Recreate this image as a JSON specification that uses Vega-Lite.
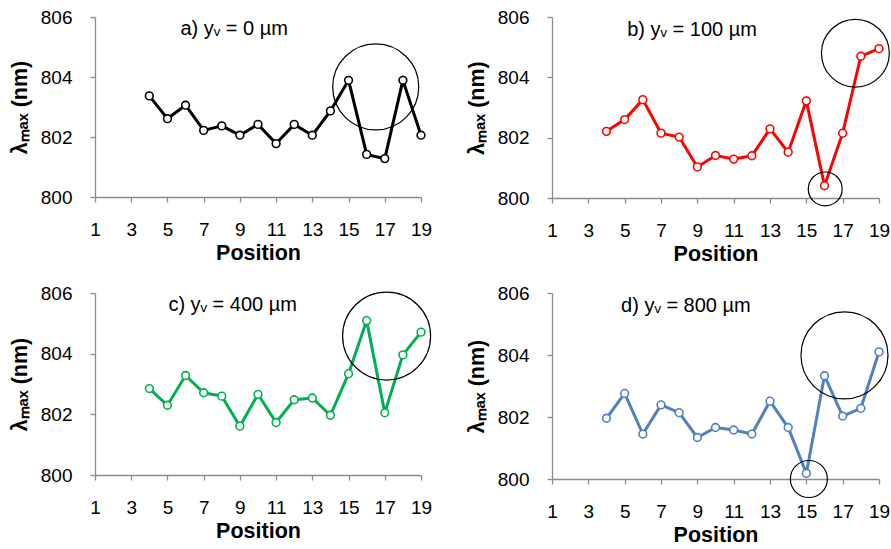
{
  "$schema": "https://vega.github.io/schema/vega-lite/v6.json",
  "background": "white",
  "padding": {"left": 9, "top": 8, "right": 0, "bottom": 0},
  "config": {
    "font": "Liberation Sans",
    "view": {"stroke": null},
    "concat": {"spacing": {"row": 19, "column": 33}},
    "text": {"font": "Liberation Sans", "fontSize": 20, "color": "black"},
    "axis": {
      "grid": false,
      "domainColor": "#8c8c8c",
      "domainWidth": 1.3,
      "tickColor": "#8c8c8c",
      "tickWidth": 1.3,
      "tickSize": 5,
      "labelFont": "Liberation Sans",
      "labelFontSize": 19,
      "labelColor": "black",
      "labelOverlap": false,
      "labelFlush": false,
      "titleFont": "Liberation Sans",
      "titleFontSize": 21.5,
      "titleFontWeight": "bold",
      "titleColor": "black"
    }
  },
  "datasets": {
    "a": [
      {"position": 4, "lambda": 803.37}, {"position": 5, "lambda": 802.61}, {"position": 6, "lambda": 803.06},
      {"position": 7, "lambda": 802.22}, {"position": 8, "lambda": 802.37}, {"position": 9, "lambda": 802.06},
      {"position": 10, "lambda": 802.42}, {"position": 11, "lambda": 801.78}, {"position": 12, "lambda": 802.42},
      {"position": 13, "lambda": 802.06}, {"position": 14, "lambda": 802.87}, {"position": 15, "lambda": 803.89},
      {"position": 16, "lambda": 801.42}, {"position": 17, "lambda": 801.28}, {"position": 18, "lambda": 803.89},
      {"position": 19, "lambda": 802.06}
    ],
    "b": [
      {"position": 4, "lambda": 802.21}, {"position": 5, "lambda": 802.6}, {"position": 6, "lambda": 803.26},
      {"position": 7, "lambda": 802.15}, {"position": 8, "lambda": 802.02}, {"position": 9, "lambda": 801.03},
      {"position": 10, "lambda": 801.41}, {"position": 11, "lambda": 801.29}, {"position": 12, "lambda": 801.4},
      {"position": 13, "lambda": 802.29}, {"position": 14, "lambda": 801.52}, {"position": 15, "lambda": 803.22},
      {"position": 16, "lambda": 800.41}, {"position": 17, "lambda": 802.15}, {"position": 18, "lambda": 804.7},
      {"position": 19, "lambda": 804.95}
    ],
    "c": [
      {"position": 4, "lambda": 802.85}, {"position": 5, "lambda": 802.3}, {"position": 6, "lambda": 803.28},
      {"position": 7, "lambda": 802.71}, {"position": 8, "lambda": 802.6}, {"position": 9, "lambda": 801.61},
      {"position": 10, "lambda": 802.66}, {"position": 11, "lambda": 801.73}, {"position": 12, "lambda": 802.48},
      {"position": 13, "lambda": 802.54}, {"position": 14, "lambda": 801.97}, {"position": 15, "lambda": 803.34},
      {"position": 16, "lambda": 805.09}, {"position": 17, "lambda": 802.05}, {"position": 18, "lambda": 803.96},
      {"position": 19, "lambda": 804.71}
    ],
    "d": [
      {"position": 4, "lambda": 801.96}, {"position": 5, "lambda": 802.76}, {"position": 6, "lambda": 801.45},
      {"position": 7, "lambda": 802.39}, {"position": 8, "lambda": 802.14}, {"position": 9, "lambda": 801.34},
      {"position": 10, "lambda": 801.66}, {"position": 11, "lambda": 801.58}, {"position": 12, "lambda": 801.45},
      {"position": 13, "lambda": 802.51}, {"position": 14, "lambda": 801.66}, {"position": 15, "lambda": 800.18},
      {"position": 16, "lambda": 803.33}, {"position": 17, "lambda": 802.03}, {"position": 18, "lambda": 802.28},
      {"position": 19, "lambda": 804.1}
    ]
  },
  "columns": 2,
  "concat": [
    {
      "width": 326, "height": 180,
      "layer": [
        {"data": {"name": "a"}, "mark": {"type": "line", "color": "black", "strokeWidth": 3},
         "encoding": {
           "x": {"field": "position", "type": "quantitative", "scale": {"domain": [1, 19], "nice": false, "zero": false}, "axis": {"values": [1, 3, 5, 7, 9, 11, 13, 15, 17, 19], "labelOverlap": false, "title": "Position", "labelPadding": 18, "titlePadding": 3}},
           "y": {"field": "lambda", "type": "quantitative", "scale": {"domain": [800, 806], "nice": false, "zero": false}, "axis": {"values": [800, 802, 804, 806], "labelOverlap": false, "title": "λₘₐₓ (nm)", "labelPadding": 18, "titlePadding": 9}}}},
        {"data": {"name": "a"}, "mark": {"type": "point", "shape": "circle", "filled": true, "fill": "white", "stroke": "black", "strokeWidth": 1.6, "size": 60, "opacity": 1},
         "encoding": {
           "x": {"field": "position", "type": "quantitative", "axis": {"values": [1, 3, 5, 7, 9, 11, 13, 15, 17, 19], "labelOverlap": false, "title": "Position", "labelPadding": 18, "titlePadding": 3}},
           "y": {"field": "lambda", "type": "quantitative", "axis": {"values": [800, 802, 804, 806], "labelOverlap": false, "title": "λₘₐₓ (nm)", "labelPadding": 18, "titlePadding": 9}}}},
        {"data": {"values": [{"position": 16.5, "lambda": 803.67}]}, "mark": {"type": "point", "shape": "circle", "filled": false, "stroke": "black", "strokeWidth": 1.2, "size": 7400, "opacity": 1},
         "encoding": {
           "x": {"field": "position", "type": "quantitative", "axis": {"values": [1, 3, 5, 7, 9, 11, 13, 15, 17, 19], "labelOverlap": false, "title": "Position", "labelPadding": 18, "titlePadding": 3}},
           "y": {"field": "lambda", "type": "quantitative", "axis": {"values": [800, 802, 804, 806], "labelOverlap": false, "title": "λₘₐₓ (nm)", "labelPadding": 18, "titlePadding": 9}}}},
        {"data": {"values": [{"label": "a) yᵥ = 0 µm"}]}, "mark": {"type": "text"},
         "encoding": {
           "x": {"datum": 8.68, "type": "quantitative", "axis": {"values": [1, 3, 5, 7, 9, 11, 13, 15, 17, 19], "labelOverlap": false, "title": "Position", "labelPadding": 18, "titlePadding": 3}},
           "y": {"datum": 805.6, "type": "quantitative", "axis": {"values": [800, 802, 804, 806], "labelOverlap": false, "title": "λₘₐₓ (nm)", "labelPadding": 18, "titlePadding": 9}},
           "text": {"field": "label", "type": "nominal"}}}
      ]
    },
    {
      "width": 327, "height": 181,
      "layer": [
        {"data": {"name": "b"}, "mark": {"type": "line", "color": "#ff0000", "strokeWidth": 3},
         "encoding": {
           "x": {"field": "position", "type": "quantitative", "scale": {"domain": [1, 19], "nice": false, "zero": false}, "axis": {"values": [1, 3, 5, 7, 9, 11, 13, 15, 17, 19], "labelOverlap": false, "title": "Position", "labelPadding": 18, "titlePadding": 3}},
           "y": {"field": "lambda", "type": "quantitative", "scale": {"domain": [800, 806], "nice": false, "zero": false}, "axis": {"values": [800, 802, 804, 806], "labelOverlap": false, "title": "λₘₐₓ (nm)", "labelPadding": 18, "titlePadding": 9}}}},
        {"data": {"name": "b"}, "mark": {"type": "point", "shape": "circle", "filled": true, "fill": "white", "stroke": "#ff0000", "strokeWidth": 1.6, "size": 60, "opacity": 1},
         "encoding": {
           "x": {"field": "position", "type": "quantitative", "axis": {"values": [1, 3, 5, 7, 9, 11, 13, 15, 17, 19], "labelOverlap": false, "title": "Position", "labelPadding": 18, "titlePadding": 3}},
           "y": {"field": "lambda", "type": "quantitative", "axis": {"values": [800, 802, 804, 806], "labelOverlap": false, "title": "λₘₐₓ (nm)", "labelPadding": 18, "titlePadding": 9}}}},
        {"data": {"values": [{"position": 17.7, "lambda": 804.8}]}, "mark": {"type": "point", "shape": "circle", "filled": false, "stroke": "black", "strokeWidth": 1.2, "size": 4600, "opacity": 1},
         "encoding": {
           "x": {"field": "position", "type": "quantitative", "axis": {"values": [1, 3, 5, 7, 9, 11, 13, 15, 17, 19], "labelOverlap": false, "title": "Position", "labelPadding": 18, "titlePadding": 3}},
           "y": {"field": "lambda", "type": "quantitative", "axis": {"values": [800, 802, 804, 806], "labelOverlap": false, "title": "λₘₐₓ (nm)", "labelPadding": 18, "titlePadding": 9}}}},
        {"data": {"values": [{"position": 16.04, "lambda": 800.3}]}, "mark": {"type": "point", "shape": "circle", "filled": false, "stroke": "black", "strokeWidth": 1.2, "size": 1150, "opacity": 1},
         "encoding": {
           "x": {"field": "position", "type": "quantitative", "axis": {"values": [1, 3, 5, 7, 9, 11, 13, 15, 17, 19], "labelOverlap": false, "title": "Position", "labelPadding": 18, "titlePadding": 3}},
           "y": {"field": "lambda", "type": "quantitative", "axis": {"values": [800, 802, 804, 806], "labelOverlap": false, "title": "λₘₐₓ (nm)", "labelPadding": 18, "titlePadding": 9}}}},
        {"data": {"values": [{"label": "b) yᵥ = 100 µm"}]}, "mark": {"type": "text"},
         "encoding": {
           "x": {"datum": 8.71, "type": "quantitative", "axis": {"values": [1, 3, 5, 7, 9, 11, 13, 15, 17, 19], "labelOverlap": false, "title": "Position", "labelPadding": 18, "titlePadding": 3}},
           "y": {"datum": 805.58, "type": "quantitative", "axis": {"values": [800, 802, 804, 806], "labelOverlap": false, "title": "λₘₐₓ (nm)", "labelPadding": 18, "titlePadding": 9}},
           "text": {"field": "label", "type": "nominal"}}}
      ]
    },
    {
      "width": 326, "height": 182,
      "layer": [
        {"data": {"name": "c"}, "mark": {"type": "line", "color": "#00b050", "strokeWidth": 3},
         "encoding": {
           "x": {"field": "position", "type": "quantitative", "scale": {"domain": [1, 19], "nice": false, "zero": false}, "axis": {"values": [1, 3, 5, 7, 9, 11, 13, 15, 17, 19], "labelOverlap": false, "title": "Position", "labelPadding": 18, "titlePadding": 3}},
           "y": {"field": "lambda", "type": "quantitative", "scale": {"domain": [800, 806], "nice": false, "zero": false}, "axis": {"values": [800, 802, 804, 806], "labelOverlap": false, "title": "λₘₐₓ (nm)", "labelPadding": 18, "titlePadding": 9}}}},
        {"data": {"name": "c"}, "mark": {"type": "point", "shape": "circle", "filled": true, "fill": "white", "stroke": "#00b050", "strokeWidth": 1.6, "size": 60, "opacity": 1},
         "encoding": {
           "x": {"field": "position", "type": "quantitative", "axis": {"values": [1, 3, 5, 7, 9, 11, 13, 15, 17, 19], "labelOverlap": false, "title": "Position", "labelPadding": 18, "titlePadding": 3}},
           "y": {"field": "lambda", "type": "quantitative", "axis": {"values": [800, 802, 804, 806], "labelOverlap": false, "title": "λₘₐₓ (nm)", "labelPadding": 18, "titlePadding": 9}}}},
        {"data": {"values": [{"position": 17.1, "lambda": 804.58}]}, "mark": {"type": "point", "shape": "circle", "filled": false, "stroke": "black", "strokeWidth": 1.2, "size": 7744, "opacity": 1},
         "encoding": {
           "x": {"field": "position", "type": "quantitative", "axis": {"values": [1, 3, 5, 7, 9, 11, 13, 15, 17, 19], "labelOverlap": false, "title": "Position", "labelPadding": 18, "titlePadding": 3}},
           "y": {"field": "lambda", "type": "quantitative", "axis": {"values": [800, 802, 804, 806], "labelOverlap": false, "title": "λₘₐₓ (nm)", "labelPadding": 18, "titlePadding": 9}}}},
        {"data": {"values": [{"label": "c) yᵥ = 400 µm"}]}, "mark": {"type": "text"},
         "encoding": {
           "x": {"datum": 8.6, "type": "quantitative", "axis": {"values": [1, 3, 5, 7, 9, 11, 13, 15, 17, 19], "labelOverlap": false, "title": "Position", "labelPadding": 18, "titlePadding": 3}},
           "y": {"datum": 805.59, "type": "quantitative", "axis": {"values": [800, 802, 804, 806], "labelOverlap": false, "title": "λₘₐₓ (nm)", "labelPadding": 18, "titlePadding": 9}},
           "text": {"field": "label", "type": "nominal"}}}
      ]
    },
    {
      "width": 327, "height": 186,
      "layer": [
        {"data": {"name": "d"}, "mark": {"type": "line", "color": "#4f81bd", "strokeWidth": 3},
         "encoding": {
           "x": {"field": "position", "type": "quantitative", "scale": {"domain": [1, 19], "nice": false, "zero": false}, "axis": {"values": [1, 3, 5, 7, 9, 11, 13, 15, 17, 19], "labelOverlap": false, "title": "Position", "labelPadding": 18, "titlePadding": 3}},
           "y": {"field": "lambda", "type": "quantitative", "scale": {"domain": [800, 806], "nice": false, "zero": false}, "axis": {"values": [800, 802, 804, 806], "labelOverlap": false, "title": "λₘₐₓ (nm)", "labelPadding": 18, "titlePadding": 9}}}},
        {"data": {"name": "d"}, "mark": {"type": "point", "shape": "circle", "filled": true, "fill": "white", "stroke": "#4f81bd", "strokeWidth": 1.6, "size": 60, "opacity": 1},
         "encoding": {
           "x": {"field": "position", "type": "quantitative", "axis": {"values": [1, 3, 5, 7, 9, 11, 13, 15, 17, 19], "labelOverlap": false, "title": "Position", "labelPadding": 18, "titlePadding": 3}},
           "y": {"field": "lambda", "type": "quantitative", "axis": {"values": [800, 802, 804, 806], "labelOverlap": false, "title": "λₘₐₓ (nm)", "labelPadding": 18, "titlePadding": 9}}}},
        {"data": {"values": [{"position": 17.1, "lambda": 803.99}]}, "mark": {"type": "point", "shape": "circle", "filled": false, "stroke": "black", "strokeWidth": 1.2, "size": 7570, "opacity": 1},
         "encoding": {
           "x": {"field": "position", "type": "quantitative", "axis": {"values": [1, 3, 5, 7, 9, 11, 13, 15, 17, 19], "labelOverlap": false, "title": "Position", "labelPadding": 18, "titlePadding": 3}},
           "y": {"field": "lambda", "type": "quantitative", "axis": {"values": [800, 802, 804, 806], "labelOverlap": false, "title": "λₘₐₓ (nm)", "labelPadding": 18, "titlePadding": 9}}}},
        {"data": {"values": [{"position": 15.14, "lambda": 800.0}]}, "mark": {"type": "point", "shape": "circle", "filled": false, "stroke": "black", "strokeWidth": 1.2, "size": 1370, "opacity": 1},
         "encoding": {
           "x": {"field": "position", "type": "quantitative", "axis": {"values": [1, 3, 5, 7, 9, 11, 13, 15, 17, 19], "labelOverlap": false, "title": "Position", "labelPadding": 18, "titlePadding": 3}},
           "y": {"field": "lambda", "type": "quantitative", "axis": {"values": [800, 802, 804, 806], "labelOverlap": false, "title": "λₘₐₓ (nm)", "labelPadding": 18, "titlePadding": 9}}}},
        {"data": {"values": [{"label": "d) yᵥ = 800 µm"}]}, "mark": {"type": "text"},
         "encoding": {
           "x": {"datum": 8.37, "type": "quantitative", "axis": {"values": [1, 3, 5, 7, 9, 11, 13, 15, 17, 19], "labelOverlap": false, "title": "Position", "labelPadding": 18, "titlePadding": 3}},
           "y": {"datum": 805.57, "type": "quantitative", "axis": {"values": [800, 802, 804, 806], "labelOverlap": false, "title": "λₘₐₓ (nm)", "labelPadding": 18, "titlePadding": 9}},
           "text": {"field": "label", "type": "nominal"}}}
      ]
    }
  ]
}
